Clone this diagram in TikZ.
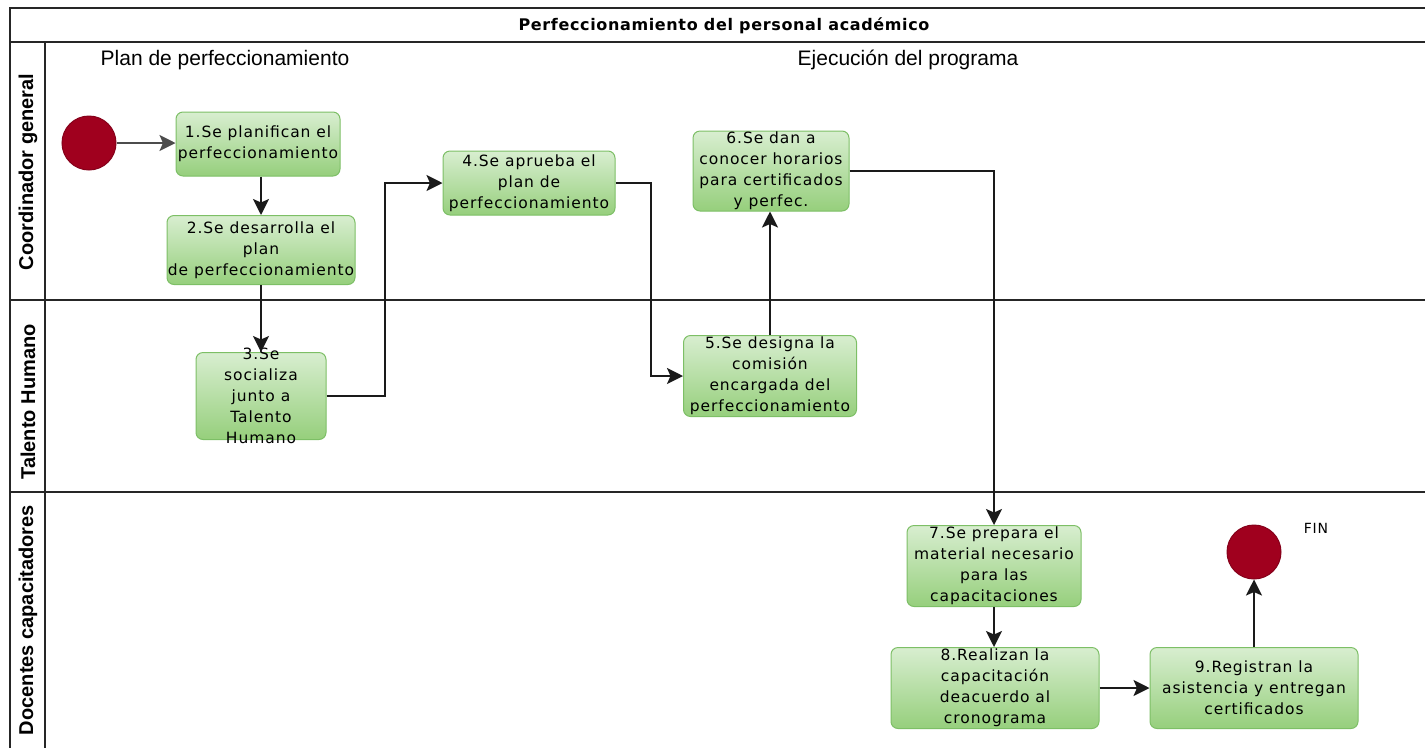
\documentclass[tikz,border=0pt]{standalone}
\usepackage{fontspec}
\usepackage{tikz}
\usetikzlibrary{arrows.meta}
\setmainfont{Liberation Sans}
\newfontfamily\boxfont[LetterSpace=6]{DejaVu Sans}
\newfontfamily\titlefont[LetterSpace=4]{DejaVu Sans}
\definecolor{taskTop}{HTML}{D8EED0}
\definecolor{taskBot}{HTML}{96CF7C}
\definecolor{taskEdge}{HTML}{7DBF66}
\definecolor{evFill}{HTML}{A0001E}
\definecolor{evEdge}{HTML}{85001A}
\definecolor{lineGray}{HTML}{1A1A1A}

\begin{document}
\begin{tikzpicture}[x=1pt,y=-1pt,
    lane/.style={draw=black!85,line width=1.8pt},
    carril/.style={rotate=90,font=\bfseries\fontsize{20}{20}\selectfont},
    hdr/.style={font=\fontsize{21}{21}\selectfont},
    tarea/.style={draw=taskEdge,line width=1pt,rounded corners=7pt,top color=taskTop,bottom color=taskBot},
    ttext/.style={font=\boxfont\fontsize{15.5}{21}\selectfont,align=center,text=black},
    evento/.style={circle,draw=evEdge,fill=evFill,minimum size=54,inner sep=0pt,line width=1pt},
    flujo/.style={draw=lineGray,line width=2pt,-{Stealth[length=16pt,width=16pt,inset=3.5pt]}}]
  \useasboundingbox (0,0) rectangle (1425,748);
  % pool and lanes
  \draw[lane] (1425,8) -- (10,8) -- (10,748);
  \draw[lane] (10,42) -- (1425,42);
  \draw[lane] (45,42) -- (45,748);
  \draw[lane] (10,300) -- (1425,300);
  \draw[lane] (10,492) -- (1425,492);
  \node[font=\titlefont\bfseries\fontsize{16}{16}\selectfont] (titulo) at (724,26) {Perfeccionamiento del personal académico};
  \node[carril] (c1) at (28,172) {Coordinador general};
  \node[carril] (c2) at (28,402) {Talento Humano};
  \node[carril] (c3) at (28,620) {Docentes capacitadores};
  \node[hdr] (h1) at (225,60) {Plan de perfeccionamiento};
  \node[hdr] (h2) at (908,60) {Ejecución del programa};
  % tasks
  \node[evento] (ini) at (89,143) {};
  \node[tarea,minimum width=164,minimum height=64,label={[ttext]center:{1.Se planifican el\\perfeccionamiento}}] (t1) at (258,144) {};
  \node[tarea,minimum width=188,minimum height=69,label={[ttext]center:{2.Se desarrolla el\\plan\\de perfeccionamiento}}] (t2) at (261,250) {};
  \node[tarea,minimum width=130,minimum height=87,label={[ttext]center:{3.Se\\socializa\\junto a\\Talento\\Humano}}] (t3) at (261,396) {};
  \node[tarea,minimum width=172,minimum height=64,label={[ttext]center:{4.Se aprueba el\\plan de\\perfeccionamiento}}] (t4) at (529,183) {};
  \node[tarea,minimum width=173,minimum height=81,label={[ttext]center:{5.Se designa la\\comisión\\encargada del\\perfeccionamiento}}] (t5) at (770,376) {};
  \node[tarea,minimum width=156,minimum height=80,label={[ttext]center:{6.Se dan a\\conocer horarios\\para certificados\\y perfec.}}] (t6) at (771,171) {};
  \node[tarea,minimum width=174,minimum height=81,label={[ttext]center:{7.Se prepara el\\material necesario\\para las\\capacitaciones}}] (t7) at (994,566) {};
  \node[tarea,minimum width=208,minimum height=81,label={[ttext]center:{8.Realizan la\\capacitación\\deacuerdo al\\cronograma}}] (t8) at (995,688) {};
  \node[tarea,minimum width=208,minimum height=81,label={[ttext]center:{9.Registran la\\asistencia y entregan\\certificados}}] (t9) at (1254,688) {};
  \node[evento] (fin) at (1254,552) {};
  \node[font=\boxfont\fontsize{14}{14}\selectfont] (finlbl) at (1316,528) {FIN};
  % flow
  \draw[flujo,draw=black!70] (ini) -- (ini -| t1.west);
  \draw[flujo] (t1.south -| t2.north) -- (t2.north);
  \draw[flujo] (t2.south) -- (t3.north);
  \draw[flujo] (t3.east) -- ++(58,0) |- (t4.west);
  \draw[flujo] (t4.east) -- ++(35,0) |- (t5.west);
  \draw[flujo] (t5.north) -- (t5.north |- t6.south);
  \draw[flujo] (t6.east) -| (t7.north);
  \draw[flujo] (t7.south) -- (t7.south |- t8.north);
  \draw[flujo] (t8.east) -- (t9.west);
  \draw[flujo] (t9.north) -- (fin.south);
\end{tikzpicture}
\end{document}
